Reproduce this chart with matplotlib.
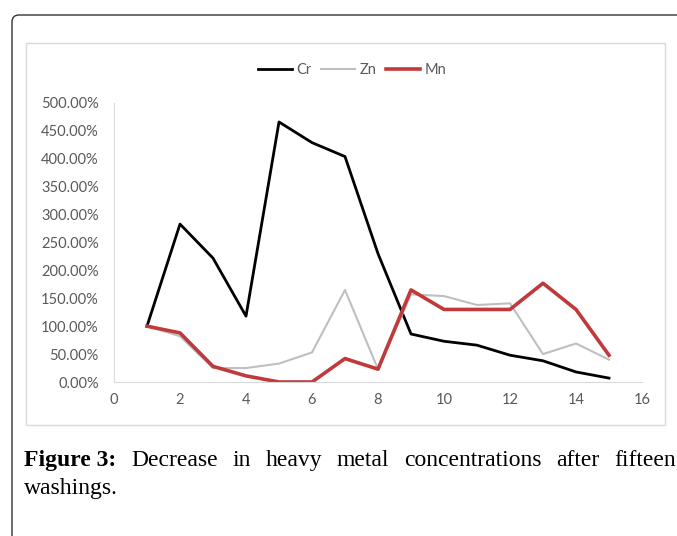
import matplotlib
matplotlib.use("Agg")
import matplotlib.pyplot as plt
from matplotlib.patches import Rectangle
from matplotlib.path import Path
from matplotlib.patches import PathPatch

# Washing number and relative concentration (%)
washings = list(range(1, 16))
cr = [100, 283, 222, 118, 466, 429, 404, 230, 86, 73, 66, 48, 38, 18, 7]
zn = [100, 82, 25, 25, 33, 53, 165, 23, 157, 154, 138, 141, 50, 69, 40]
mn = [100, 88, 28, 11, 0, 0, 42, 23, 165, 130, 130, 130, 177, 130, 48]

x_ticks = [0, 2, 4, 6, 8, 10, 12, 14, 16]
y_ticks = [0, 50, 100, 150, 200, 250, 300, 350, 400, 450, 500]

caption_bold = "Figure 3:"
caption_line1 = "Decrease in heavy metal concentrations after fifteen"
caption_line2 = "washings."

W, H = 677, 536
fig = plt.figure(figsize=(W / 100, H / 100), dpi=100)

# outer frame (top-left rounded corner, open on right/bottom)
verts = [(12 / W, 0), (12 / W, 1 - 22 / H), (12 / W, 1 - 15 / H), (19 / W, 1 - 15 / H), (1, 1 - 15 / H)]
codes = [Path.MOVETO, Path.LINETO, Path.CURVE3, Path.CURVE3, Path.LINETO]
fig.patches.append(PathPatch(Path(verts, codes), transform=fig.transFigure,
                             fill=False, edgecolor="#333333", lw=1.0))

# chart area box
fig.patches.append(Rectangle((26 / W, 1 - 425 / H), (665 - 26) / W, (425 - 43) / H,
                             transform=fig.transFigure, fill=False,
                             edgecolor="#d6ddd6", lw=1))

ax = fig.add_axes([114 / W, 1 - 382 / H, (642 - 114) / W, (382 - 103) / H])
ax.plot(washings, cr, color="black", lw=2, label="Cr")
ax.plot(washings, zn, color="#bfbfbf", lw=1.5, label="Zn")
ax.plot(washings, mn, color="#c0393b", lw=2.6, label="Mn")

ax.set_xlim(0, 16)
ax.set_ylim(0, 500)
ax.set_xticks(x_ticks)
ax.set_yticks(y_ticks)
ax.set_yticklabels(["%.2f%%" % v for v in y_ticks])
for s in ["top", "right"]:
    ax.spines[s].set_visible(False)
for s in ["left", "bottom"]:
    ax.spines[s].set_color("#d9d9d9")
ax.tick_params(length=0, labelsize=10.5, colors="#595959")
ax.tick_params(axis="y", pad=11)
ax.tick_params(axis="x", pad=8)
for lbl in ax.get_xticklabels() + ax.get_yticklabels():
    lbl.set_fontfamily("Lato")

leg = fig.legend(loc="center", bbox_to_anchor=(352 / W, 1 - 70 / H), ncol=3, frameon=False,
                 handlelength=2.3, handletextpad=0.3, columnspacing=0.7,
                 prop={"family": "Lato", "size": 10.5})
for t in leg.get_texts():
    t.set_color("#595959")

# caption, justified first line
fig.canvas.draw()
r = fig.canvas.get_renderer()
words = [caption_bold] + caption_line1.split()
fs = 17
x_left, x_right = 24, 676
y1 = 1 - 466 / H
arts = []
for i, w in enumerate(words):
    if i == 0:
        t = fig.text(0, y1, w, fontsize=fs, family="Liberation Serif", weight="bold", va="baseline")
    else:
        t = fig.text(0, y1, w, fontsize=fs, family="Liberation Serif", va="baseline")
    arts.append(t)
widths = [a.get_window_extent(r).width for a in arts]
gap = (x_right - x_left - sum(widths)) / (len(words) - 1)
xpos = x_left
for a, wd in zip(arts, widths):
    a.set_x(xpos / W)
    xpos += wd + gap
fig.text(x_left / W, 1 - 494 / H, caption_line2, fontsize=fs, family="Liberation Serif", va="baseline")

fig.savefig("out.png", dpi=100)
